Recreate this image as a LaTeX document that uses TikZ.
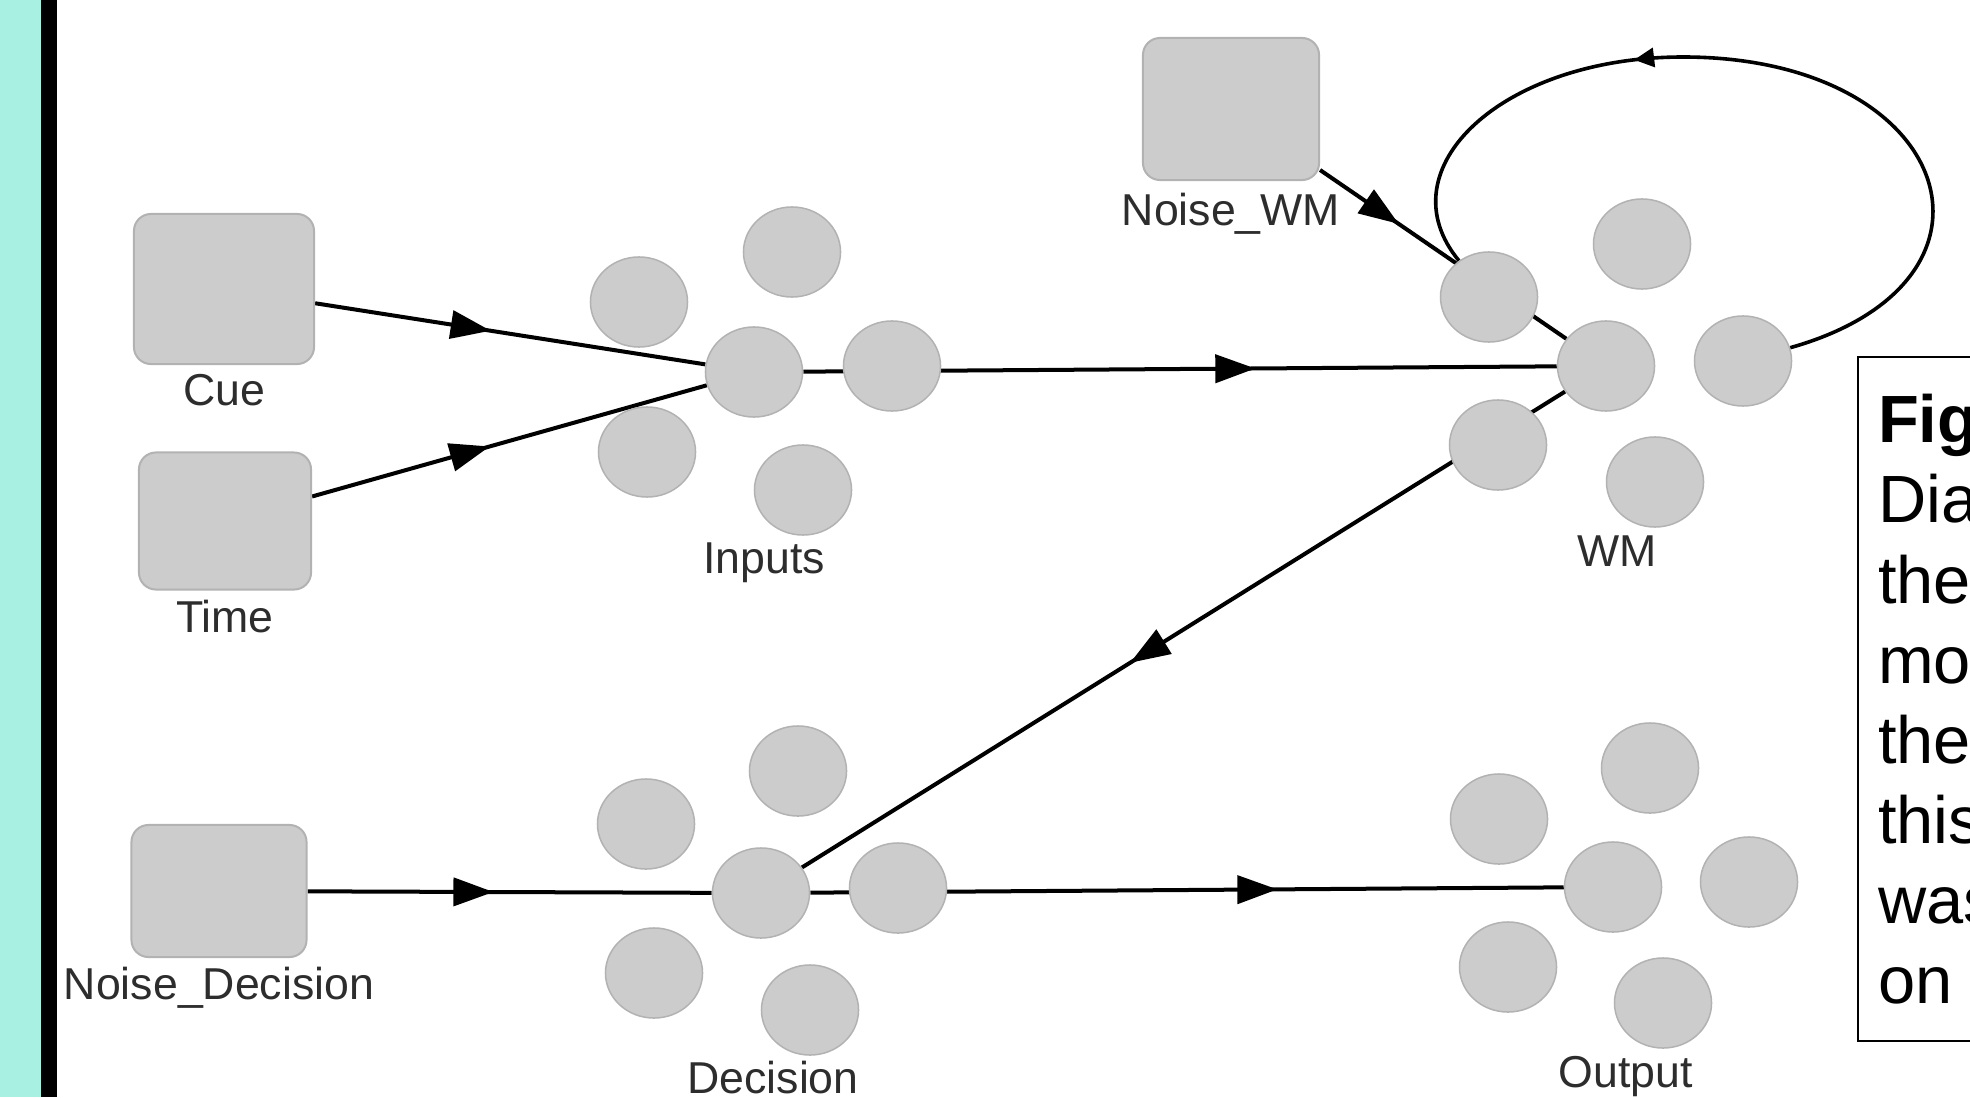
\documentclass[tikz,border=0pt]{standalone}
\usepackage{fontspec}
\setmainfont{Liberation Sans}
\usepackage{tikz}
\usetikzlibrary{positioning,arrows.meta,shapes.geometric,backgrounds,decorations.markings}
\definecolor{bandcyan}{RGB}{168,240,226}
\definecolor{unitgray}{RGB}{204,204,204}
\definecolor{unitedge}{RGB}{178,178,178}
\definecolor{labelgray}{RGB}{45,45,45}

\begin{document}
\begin{tikzpicture}[
    x=0.01cm, y=-0.01cm,
    src/.style={rectangle, rounded corners=0.17cm, draw=unitedge, line width=0.02cm, fill=unitgray, minimum width=1.75cm, minimum height=1.38cm, inner sep=0pt},
    cell/.style={ellipse, draw=unitedge, line width=0.015cm, fill=unitgray, minimum width=0.97cm, minimum height=0.9cm, inner sep=0pt},
    lbl/.style={text=labelgray, font=\fontsize{12.7}{15}\selectfont, inner sep=0pt},
    conn/.style={line width=0.04cm, postaction={decorate}, decoration={markings, mark=at position #1 with {\arrow{Triangle[length=0.4cm, width=0.28cm]}}}},
    loopconn/.style={line width=0.036cm, postaction={decorate}, decoration={markings, mark=at position #1 with {\arrow{Triangle[length=0.2cm, width=0.19cm]}}}},
    capbox/.style={draw, line width=0.02cm, anchor=north west, align=left, text width=3cm, minimum height=6.84cm, inner xsep=0.2cm, inner ysep=0pt, font=\fontsize{19}{22.76}\selectfont}
]
    \useasboundingbox (0,0) rectangle (1970,1097);
    \fill[bandcyan] (0,0) rectangle (41,1097);
    \fill[black] (41,0) rectangle (57,1097);

    \node[src, minimum width=1.8cm, minimum height=1.5cm] (cue) at (224,289) {};
    \node[src, minimum width=1.72cm, minimum height=1.37cm] (time) at (225,521) {};
    \node[src, minimum height=1.32cm] (noisedec) at (219,891) {};
    \node[src, minimum width=1.76cm, minimum height=1.42cm] (noisewm) at (1231,109) {};
    \node[lbl, below=0.09cm of cue] (cuelbl) {Cue};
    \node[lbl, below=0.09cm of time] (timelbl) {Time};
    \node[lbl, below=0.08cm of noisedec] (noisedeclbl) {Noise\_Decision};
    \node[lbl, below=0.11cm of noisewm] (noisewmlbl) {Noise\_WM};

    \node[cell] (inC) at (754,372) {};
    \node[cell] (inT) at (792,252) {};
    \node[cell] (inUL) at (639,302) {};
    \node[cell] (inR) at (892,366) {};
    \node[cell] (inLL) at (647,452) {};
    \node[cell] (inLo) at (803,490) {};
    \node[lbl, anchor=base] (inlbl) at (764,573) {Inputs};

    \node[cell] (wmC) at (1606,366) {};
    \node[cell] (wmT) at (1642,244) {};
    \node[cell] (wmUL) at (1489,297) {};
    \node[cell] (wmR) at (1743,361) {};
    \node[cell] (wmLL) at (1498,445) {};
    \node[cell] (wmLo) at (1655,482) {};
    \node[lbl, anchor=base] (wmlbl) at (1617,566) {WM};

    \node[cell] (decC) at (761,893) {};
    \node[cell] (decT) at (798,771) {};
    \node[cell] (decUL) at (646,824) {};
    \node[cell] (decR) at (898,888) {};
    \node[cell] (decLL) at (654,973) {};
    \node[cell] (decLo) at (810,1010) {};
    \node[lbl, anchor=base] (declbl) at (773,1093) {Decision};

    \node[cell] (outC) at (1613,887) {};
    \node[cell] (outT) at (1650,768) {};
    \node[cell] (outUL) at (1499,819) {};
    \node[cell] (outR) at (1749,882) {};
    \node[cell] (outLL) at (1508,967) {};
    \node[cell] (outLo) at (1663,1003) {};
    \node[lbl, anchor=base] (outlbl) at (1626,1087) {Output};

    \coordinate (loopTop) at (1683,57);

    \node[capbox] (caption) at (1857,356) {\textbf{Fig}\\Dia\\the\\mo\\the\\this\\was\\on};

    \begin{scope}[on background layer]
        \draw[conn=0.45] (cue) -- (inC);
        \draw[conn=0.45] (time) -- (inC);
        \draw[conn=0.6] (inC) -- (wmC);
        \draw[conn=0.32] (noisewm) -- (wmC);
        \draw[conn=0.57] (wmC) -- (decC);
        \draw[conn=0.46] (noisedec) -- (decC);
        \draw[conn=0.62] (decC) -- (outC);
        \draw[loopconn=0.64] (wmR) .. controls (2027,281) and (1954,57) .. (loopTop) .. controls (1502,57) and (1383,169) .. (wmUL);
    \end{scope}
\end{tikzpicture}
\end{document}
